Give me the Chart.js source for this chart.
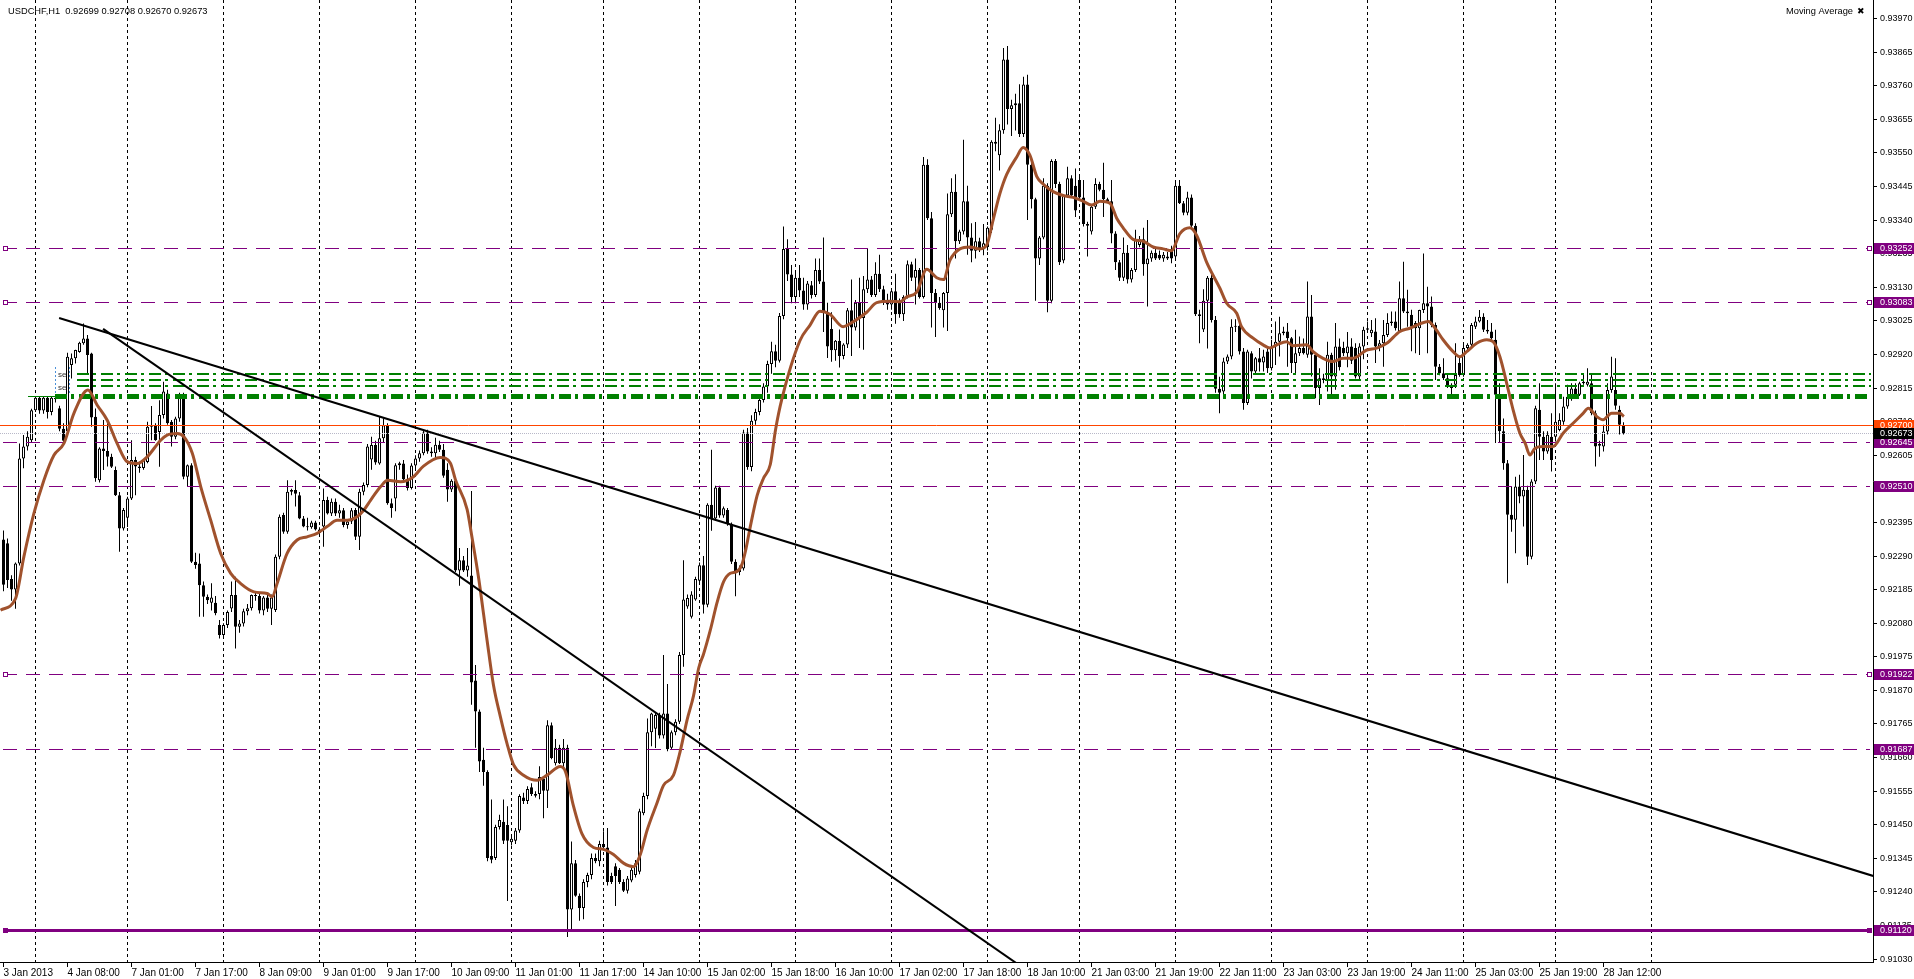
<!DOCTYPE html>
<html><head><meta charset="utf-8">
<script src="https://cdn.jsdelivr.net/npm/chart.js@4.4.0/dist/chart.umd.min.js"></script>
<style>html,body{margin:0;padding:0;background:#fff;overflow:hidden}canvas{display:block}</style>
</head><body>
<canvas id="c" width="1914" height="979"></canvas>
<script>
const chartTitle = 'USDCHF,H1  0.92699 0.92708 0.92670 0.92673';
const indicatorName = 'Moving Average';

const opens = [
0.92342,0.92330,0.92218,0.92185,0.92267,0.92595,0.92632,0.92652,0.92746,0.92785,
0.92745,0.92785,0.92740,0.92785,0.92752,0.92688,0.92680,0.92887,0.92908,0.92928,
0.92955,0.92970,0.92923,0.92725,0.92527,0.92626,0.92618,0.92600,0.92559,0.92480,
0.92376,0.92410,0.92470,0.92590,0.92570,0.92565,0.92584,0.92694,0.92699,0.92678,
0.92731,0.92798,0.92710,0.92663,0.92720,0.92793,0.92538,0.92574,0.92272,0.92267,
0.92199,0.92163,0.92144,0.92144,0.92074,0.92043,0.92074,0.92126,0.92168,0.92069,
0.92079,0.92117,0.92127,0.92168,0.92165,0.92120,0.92160,0.92125,0.92121,0.92288,
0.92418,0.92366,0.92491,0.92496,0.92480,0.92407,0.92382,0.92380,0.92395,0.92373,
0.92382,0.92465,0.92423,0.92460,0.92423,0.92433,0.92387,0.92398,0.92434,0.92350,
0.92491,0.92512,0.92592,0.92637,0.92579,0.92658,0.92699,0.92455,0.92470,0.92574,
0.92579,0.92530,0.92503,0.92573,0.92595,0.92611,0.92676,0.92617,0.92611,0.92638,
0.92622,0.92560,0.92498,0.92525,0.92245,0.92277,0.92245,0.92229,0.91901,0.91804,
0.91653,0.91615,0.91352,0.91346,0.91443,0.91459,0.91449,0.91395,0.91400,0.91432,
0.91535,0.91524,0.91567,0.91546,0.91546,0.91594,0.91556,0.91761,0.91642,0.91691,
0.91642,0.91691,0.91185,0.91330,0.91228,0.91190,0.91271,0.91293,0.91346,0.91336,
0.91390,0.91379,0.91290,0.91320,0.91309,0.91271,0.91244,0.91276,0.91293,0.91303,
0.91486,0.91540,0.91739,0.91750,0.91793,0.91729,0.91798,0.91691,0.91739,0.91772,
0.91981,0.92132,0.92100,0.92154,0.92213,0.92261,0.92138,0.92450,0.92407,0.92504,
0.92417,0.92434,0.92391,0.92272,0.92240,0.92251,0.92676,0.92568,0.92713,0.92740,
0.92778,0.92820,0.92890,0.92930,0.92900,0.93040,0.93250,0.93170,0.93100,0.93160,
0.93120,0.93076,0.93136,0.93106,0.93184,0.93148,0.93052,0.93000,0.92933,0.92963,
0.92915,0.92951,0.93058,0.93004,0.93082,0.93034,0.93124,0.93154,0.93106,0.93172,
0.93124,0.93082,0.93076,0.93118,0.93082,0.93046,0.93100,0.93202,0.93160,0.93184,
0.93100,0.93513,0.93346,0.93112,0.93082,0.93058,0.93112,0.93358,0.93429,0.93274,
0.93304,0.93399,0.93286,0.93244,0.93274,0.93250,0.93256,0.93310,0.93585,0.93543,
0.93621,0.93842,0.93687,0.93705,0.93705,0.93609,0.93764,0.93513,0.93405,0.93220,
0.93286,0.93447,0.93088,0.93525,0.93453,0.93214,0.93417,0.93471,0.93447,0.93465,
0.93411,0.93328,0.93304,0.93382,0.93453,0.93435,0.93405,0.93399,0.93298,0.93208,
0.93160,0.93238,0.93154,0.93184,0.93262,0.93280,0.93202,0.93220,0.93238,0.93232,
0.93220,0.93226,0.93250,0.93226,0.93447,0.93393,0.93363,0.93411,0.93322,0.93046,
0.92998,0.93088,0.93160,0.93028,0.92813,0.92804,0.92898,0.92914,0.93007,0.93010,
0.92929,0.92768,0.92924,0.92867,0.92908,0.92895,0.92929,0.92877,0.92945,0.92960,
0.92986,0.92992,0.92971,0.92893,0.92924,0.92940,0.92919,0.93039,0.92919,0.92815,
0.92846,0.92840,0.92919,0.92851,0.92945,0.92940,0.92924,0.92945,0.92940,0.92851,
0.92945,0.92997,0.92986,0.92992,0.92945,0.92955,0.92981,0.93018,0.93023,0.92992,
0.93096,0.93054,0.93044,0.93018,0.93002,0.93059,0.93080,0.93070,0.93012,0.92882,
0.92861,0.92846,0.92825,0.92825,0.92893,0.92856,0.92940,0.92950,0.93007,0.93023,
0.93038,0.92997,0.92992,0.92966,0.92794,0.92680,0.92580,0.92419,0.92403,0.92507,
0.92476,0.92497,0.92288,0.92523,0.92747,0.92663,0.92617,0.92663,0.92663,0.92684,
0.92710,0.92757,0.92783,0.92814,0.92794,0.92830,0.92825,0.92830,0.92736,0.92640,
0.92632,0.92679,0.92809,0.92809,0.92747,0.92699];

const highs = [
0.92370,0.92345,0.92230,0.92270,0.92642,0.92668,0.92680,0.92750,0.92790,0.92790,
0.92790,0.92790,0.92790,0.92792,0.92760,0.92705,0.92925,0.92923,0.92935,0.92960,
0.93017,0.92981,0.92925,0.92751,0.92630,0.92715,0.92715,0.92610,0.92570,0.92490,
0.92440,0.92475,0.92652,0.92600,0.92585,0.92590,0.92710,0.92759,0.92705,0.92777,
0.92835,0.92810,0.92715,0.92725,0.92800,0.92800,0.92576,0.92580,0.92300,0.92298,
0.92210,0.92170,0.92205,0.92165,0.92090,0.92080,0.92120,0.92210,0.92225,0.92090,
0.92125,0.92140,0.92170,0.92180,0.92175,0.92165,0.92175,0.92170,0.92295,0.92420,
0.92425,0.92527,0.92500,0.92527,0.92490,0.92415,0.92410,0.92400,0.92400,0.92380,
0.92501,0.92475,0.92470,0.92470,0.92450,0.92440,0.92405,0.92440,0.92440,0.92500,
0.92520,0.92640,0.92663,0.92650,0.92725,0.92720,0.92705,0.92470,0.92580,0.92585,
0.92590,0.92545,0.92580,0.92605,0.92620,0.92683,0.92685,0.92630,0.92660,0.92650,
0.92640,0.92580,0.92530,0.92530,0.92315,0.92290,0.92315,0.92493,0.91949,0.91810,
0.91691,0.91620,0.91529,0.91450,0.91481,0.91529,0.91508,0.91415,0.91440,0.91545,
0.91550,0.91570,0.91580,0.91555,0.91633,0.91600,0.91777,0.91770,0.91718,0.91700,
0.91718,0.91700,0.91398,0.91340,0.91235,0.91280,0.91300,0.91360,0.91360,0.91400,
0.91430,0.91440,0.91300,0.91330,0.91315,0.91280,0.91290,0.91315,0.91340,0.91500,
0.91550,0.91782,0.91800,0.91800,0.91800,0.91981,0.91890,0.91745,0.91780,0.91990,
0.92277,0.92170,0.92180,0.92225,0.92270,0.92290,0.92455,0.92622,0.92510,0.92510,
0.92445,0.92440,0.92395,0.92280,0.92260,0.92685,0.92690,0.92730,0.92750,0.92790,
0.92830,0.92900,0.92960,0.92950,0.93050,0.93320,0.93280,0.93200,0.93180,0.93200,
0.93160,0.93150,0.93150,0.93220,0.93220,0.93286,0.93082,0.93052,0.92965,0.92998,
0.92955,0.93065,0.93154,0.93090,0.93160,0.93165,0.93250,0.93165,0.93208,0.93232,
0.93135,0.93110,0.93125,0.93172,0.93095,0.93105,0.93214,0.93210,0.93220,0.93190,
0.93537,0.93530,0.93365,0.93125,0.93100,0.93115,0.93423,0.93471,0.93483,0.93310,
0.93591,0.93447,0.93330,0.93334,0.93285,0.93328,0.93320,0.93590,0.93660,0.93640,
0.93878,0.93884,0.93716,0.93735,0.93765,0.93788,0.93794,0.93520,0.93410,0.93290,
0.93471,0.93455,0.93530,0.93531,0.93460,0.93420,0.93507,0.93480,0.93501,0.93483,
0.93465,0.93335,0.93390,0.93471,0.93460,0.93519,0.93410,0.93465,0.93305,0.93215,
0.93286,0.93262,0.93190,0.93310,0.93290,0.93316,0.93340,0.93245,0.93250,0.93245,
0.93240,0.93240,0.93260,0.93460,0.93465,0.93400,0.93429,0.93420,0.93330,0.93060,
0.93124,0.93165,0.93170,0.93040,0.92850,0.92910,0.92920,0.93030,0.93030,0.93020,
0.92940,0.92935,0.92930,0.92912,0.92940,0.92935,0.92945,0.92966,0.93023,0.93038,
0.93007,0.93018,0.92975,0.92997,0.92976,0.92970,0.93148,0.93106,0.92925,0.92877,
0.92860,0.92960,0.92925,0.93018,0.92970,0.92960,0.92990,0.92971,0.92955,0.92955,
0.93007,0.93023,0.93028,0.93033,0.92965,0.93028,0.93049,0.93054,0.93054,0.93148,
0.93210,0.93122,0.93060,0.93025,0.93060,0.93236,0.93132,0.93101,0.93020,0.92890,
0.92908,0.92856,0.92830,0.92955,0.92913,0.92955,0.92955,0.93018,0.93038,0.93059,
0.93049,0.93028,0.93018,0.92997,0.92830,0.92720,0.92590,0.92507,0.92538,0.92544,
0.92606,0.92510,0.92530,0.92760,0.92830,0.92680,0.92680,0.92736,0.92830,0.92736,
0.92788,0.92825,0.92830,0.92830,0.92835,0.92862,0.92877,0.92862,0.92745,0.92650,
0.92700,0.92830,0.92913,0.92908,0.92760,0.92708];

const lows = [
0.92180,0.92190,0.92150,0.92125,0.92260,0.92564,0.92620,0.92645,0.92740,0.92735,
0.92735,0.92720,0.92730,0.92770,0.92680,0.92640,0.92670,0.92845,0.92892,0.92925,
0.92950,0.92861,0.92694,0.92522,0.92520,0.92559,0.92570,0.92565,0.92478,0.92303,
0.92370,0.92381,0.92465,0.92480,0.92550,0.92560,0.92580,0.92652,0.92650,0.92569,
0.92720,0.92700,0.92632,0.92655,0.92710,0.92530,0.92506,0.92268,0.92250,0.92100,
0.92100,0.92140,0.92120,0.92105,0.92032,0.92035,0.92065,0.92115,0.92001,0.92050,
0.92070,0.92105,0.92120,0.92150,0.92110,0.92105,0.92115,0.92074,0.92115,0.92280,
0.92360,0.92360,0.92480,0.92445,0.92405,0.92380,0.92370,0.92375,0.92370,0.92355,
0.92319,0.92420,0.92415,0.92415,0.92410,0.92380,0.92375,0.92390,0.92340,0.92309,
0.92480,0.92505,0.92560,0.92575,0.92575,0.92645,0.92450,0.92410,0.92430,0.92560,
0.92520,0.92495,0.92498,0.92565,0.92585,0.92605,0.92610,0.92600,0.92590,0.92615,
0.92535,0.92460,0.92490,0.92240,0.92197,0.92240,0.92225,0.91825,0.91691,0.91615,
0.91572,0.91336,0.91330,0.91340,0.91435,0.91390,0.91212,0.91385,0.91390,0.91425,
0.91515,0.91515,0.91540,0.91535,0.91530,0.91470,0.91502,0.91655,0.91635,0.91640,
0.91630,0.91099,0.91120,0.91225,0.91150,0.91155,0.91255,0.91280,0.91330,0.91320,
0.91370,0.91260,0.91265,0.91196,0.91265,0.91240,0.91235,0.91270,0.91285,0.91295,
0.91480,0.91530,0.91695,0.91690,0.91720,0.91720,0.91680,0.91685,0.91730,0.91765,
0.91944,0.92125,0.92095,0.92150,0.92205,0.92110,0.92130,0.92369,0.92400,0.92410,
0.92410,0.92385,0.92265,0.92164,0.92230,0.92245,0.92560,0.92555,0.92700,0.92730,
0.92770,0.92800,0.92860,0.92880,0.92895,0.93030,0.93150,0.93080,0.93080,0.93100,
0.93060,0.93060,0.93095,0.93100,0.93140,0.92990,0.92909,0.92897,0.92900,0.92879,
0.92905,0.92940,0.92915,0.92995,0.92940,0.92935,0.93112,0.93100,0.93100,0.93115,
0.93075,0.93060,0.93060,0.93016,0.93035,0.93025,0.93095,0.93150,0.93076,0.93095,
0.93095,0.93340,0.93004,0.92975,0.93060,0.93004,0.92993,0.93350,0.93220,0.93265,
0.93295,0.93232,0.93208,0.93220,0.93240,0.93230,0.93245,0.93300,0.93555,0.93495,
0.93610,0.93639,0.93603,0.93620,0.93600,0.93600,0.93340,0.93376,0.93088,0.93200,
0.93280,0.93052,0.93080,0.93440,0.93200,0.93205,0.93410,0.93410,0.93350,0.93405,
0.93320,0.93226,0.93295,0.93375,0.93430,0.93350,0.93395,0.93268,0.93184,0.93150,
0.93150,0.93142,0.93145,0.93178,0.93255,0.93166,0.93070,0.93210,0.93215,0.93215,
0.93210,0.93215,0.93205,0.93220,0.93390,0.93355,0.93355,0.93315,0.93040,0.92955,
0.92990,0.92939,0.93020,0.92800,0.92736,0.92790,0.92890,0.92905,0.92990,0.92920,
0.92747,0.92762,0.92845,0.92860,0.92867,0.92867,0.92862,0.92870,0.92887,0.92914,
0.92980,0.92882,0.92862,0.92862,0.92915,0.92920,0.92910,0.92851,0.92783,0.92762,
0.92830,0.92804,0.92783,0.92810,0.92870,0.92915,0.92880,0.92890,0.92845,0.92840,
0.92905,0.92990,0.92975,0.92893,0.92930,0.92882,0.92975,0.93010,0.92995,0.92990,
0.93050,0.93007,0.92930,0.92924,0.92918,0.93050,0.92924,0.93005,0.92840,0.92855,
0.92840,0.92815,0.92783,0.92815,0.92850,0.92850,0.92930,0.92945,0.93000,0.93020,
0.92990,0.92985,0.92960,0.92643,0.92643,0.92560,0.92205,0.92366,0.92299,0.92455,
0.92382,0.92262,0.92280,0.92515,0.92590,0.92590,0.92610,0.92554,0.92648,0.92680,
0.92700,0.92750,0.92775,0.92790,0.92790,0.92825,0.92820,0.92730,0.92570,0.92600,
0.92617,0.92670,0.92800,0.92747,0.92670,0.92670];

const closes = [
0.92200,0.92215,0.92185,0.92267,0.92595,0.92632,0.92663,0.92746,0.92785,0.92745,
0.92785,0.92740,0.92785,0.92780,0.92688,0.92650,0.92913,0.92908,0.92934,0.92957,
0.92970,0.92918,0.92723,0.92533,0.92626,0.92618,0.92600,0.92569,0.92480,0.92376,
0.92434,0.92470,0.92590,0.92570,0.92565,0.92588,0.92694,0.92699,0.92652,0.92731,
0.92804,0.92705,0.92663,0.92720,0.92788,0.92538,0.92574,0.92272,0.92262,0.92199,
0.92163,0.92152,0.92160,0.92111,0.92043,0.92074,0.92115,0.92168,0.92069,0.92079,
0.92117,0.92127,0.92168,0.92165,0.92120,0.92160,0.92125,0.92160,0.92288,0.92413,
0.92366,0.92491,0.92496,0.92485,0.92407,0.92382,0.92380,0.92395,0.92373,0.92362,
0.92465,0.92423,0.92460,0.92423,0.92433,0.92387,0.92398,0.92433,0.92350,0.92491,
0.92512,0.92632,0.92637,0.92582,0.92658,0.92699,0.92455,0.92440,0.92574,0.92580,
0.92530,0.92503,0.92573,0.92595,0.92611,0.92676,0.92617,0.92611,0.92638,0.92622,
0.92541,0.92498,0.92525,0.92245,0.92277,0.92245,0.92260,0.91895,0.91804,0.91648,
0.91615,0.91346,0.91341,0.91443,0.91465,0.91400,0.91400,0.91406,0.91432,0.91540,
0.91524,0.91562,0.91546,0.91541,0.91599,0.91556,0.91761,0.91659,0.91691,0.91642,
0.91691,0.91185,0.91330,0.91228,0.91190,0.91271,0.91293,0.91346,0.91336,0.91390,
0.91380,0.91271,0.91271,0.91290,0.91271,0.91244,0.91282,0.91309,0.91330,0.91492,
0.91540,0.91739,0.91798,0.91793,0.91729,0.91798,0.91686,0.91739,0.91772,0.91981,
0.92154,0.92159,0.92170,0.92218,0.92261,0.92138,0.92450,0.92407,0.92504,0.92417,
0.92439,0.92391,0.92272,0.92240,0.92251,0.92676,0.92568,0.92713,0.92740,0.92778,
0.92820,0.92890,0.92930,0.92900,0.93040,0.93250,0.93170,0.93100,0.93160,0.93120,
0.93076,0.93142,0.93106,0.93184,0.93148,0.93052,0.92945,0.92933,0.92963,0.92915,
0.92951,0.93058,0.93004,0.93082,0.93034,0.93124,0.93154,0.93106,0.93172,0.93124,
0.93082,0.93076,0.93118,0.93046,0.93046,0.93100,0.93202,0.93160,0.93184,0.93100,
0.93513,0.93346,0.93112,0.93082,0.93065,0.93112,0.93358,0.93429,0.93274,0.93304,
0.93399,0.93286,0.93244,0.93274,0.93250,0.93268,0.93316,0.93585,0.93579,0.93621,
0.93842,0.93687,0.93699,0.93699,0.93609,0.93764,0.93513,0.93405,0.93220,0.93286,
0.93447,0.93088,0.93525,0.93453,0.93208,0.93417,0.93471,0.93417,0.93370,0.93411,
0.93328,0.93322,0.93382,0.93453,0.93435,0.93405,0.93399,0.93298,0.93208,0.93160,
0.93238,0.93154,0.93184,0.93280,0.93280,0.93202,0.93220,0.93238,0.93220,0.93220,
0.93232,0.93220,0.93220,0.93447,0.93393,0.93363,0.93411,0.93322,0.93046,0.93040,
0.93088,0.93160,0.93028,0.92813,0.92800,0.92898,0.92914,0.93007,0.93010,0.92929,
0.92768,0.92929,0.92867,0.92908,0.92895,0.92914,0.92877,0.92945,0.92960,0.92986,
0.92992,0.92971,0.92893,0.92924,0.92940,0.92924,0.93039,0.92919,0.92815,0.92846,
0.92840,0.92919,0.92851,0.92945,0.92880,0.92924,0.92945,0.92900,0.92851,0.92945,
0.92997,0.93002,0.92997,0.92945,0.92955,0.92981,0.93018,0.93023,0.93002,0.93096,
0.93054,0.93049,0.93007,0.93002,0.93059,0.93080,0.93070,0.93012,0.92882,0.92861,
0.92846,0.92820,0.92815,0.92856,0.92856,0.92940,0.92950,0.93012,0.93023,0.93038,
0.92997,0.92992,0.92971,0.92794,0.92680,0.92580,0.92419,0.92403,0.92507,0.92476,
0.92497,0.92288,0.92523,0.92752,0.92663,0.92617,0.92669,0.92590,0.92710,0.92715,
0.92757,0.92788,0.92814,0.92794,0.92830,0.92835,0.92835,0.92736,0.92632,0.92635,
0.92679,0.92809,0.92851,0.92760,0.92700,0.92673];

const maBars = [-0.75,3,5.1,7.6,10.1,12.6,15.1,17.6,21.1,23.4,
25.9,28.4,30.9,33.4,35.9,39.3,40.9,43.4,45.1,47.2,
49.3,51.8,54.3,56.8,59.3,62.6,65.9,67.2,68.4,70.9,
73.4,75.9,78.4,80.9,83.4,85.9,88.4,90.1,91.8,94.3,
96,99.3,102.5,105,109.2,111.7,113,115.9,117.1,118.8,
120.9,122.5,124.2,125.9,127.5,130,133.4,135.9,139.2,140.5,
142.5,144.6,147.5,150,152.5,155,157.5,159.2,160.9,163.4,
165,167.5,169.2,170.9,172.5,173.8,175,176.7,178.4,180,
181.7,183.4,184.6,185.5,186.7,188.4,190,191.7,193,194.6,
199.1,201.6,204.1,206.6,209.9,212.4,215.8,218.3,221.6,224.1,
225.8,228.3,230.8,233.3,235,236.6,239.1,241.6,244.1,245.8,
247.4,249.1,250.8,253.3,254.9,256.6,258.3,259.9,262.4,264.9,
267.4,269.9,272,274.1,276.6,278.3,279.9,282.4,284.9,287.4,
289.9,292,294.1,296.6,298.3,300.8,304.1,305.8,308.3,309.5,
312.4,314.9,316.6,318.3,320.8,322.4,325.8,327.4,329.9,332.4,
334.9,337.4,340.8,343.3,345.8,349.1,351.6,354.1,356.2,357.9,
359.9,362.4,364.1,365.8,368.3,370.8,372.4,374.1,375.8,377.4,
379.1,380.4,381.6,382.9,384.9,387.4,389.9,392.4,394.9,396.2,
398.3,399.9,402,404.1,405.1];

const maValues = [0.92121,0.92157,0.92288,0.92423,0.92527,0.92605,0.92642,0.92736,0.92809,0.92762,
0.92715,0.92642,0.92585,0.92579,0.92600,0.92652,0.92668,0.92673,0.92663,0.92611,
0.92507,0.92402,0.92298,0.92236,0.92204,0.92178,0.92173,0.92163,0.92204,0.92298,
0.92340,0.92350,0.92361,0.92382,0.92402,0.92402,0.92413,0.92434,0.92465,0.92507,
0.92527,0.92522,0.92538,0.92571,0.92598,0.92581,0.92528,0.92436,0.92350,0.92220,
0.92026,0.91886,0.91789,0.91703,0.91638,0.91605,0.91589,0.91605,0.91632,0.91616,
0.91508,0.91422,0.91379,0.91373,0.91357,0.91330,0.91319,0.91357,0.91433,0.91519,
0.91573,0.91605,0.91681,0.91778,0.91853,0.91940,0.91983,0.92058,0.92145,0.92209,
0.92236,0.92242,0.92263,0.92306,0.92382,0.92479,0.92533,0.92576,0.92684,0.92781,
0.92963,0.93011,0.93055,0.93046,0.93007,0.93022,0.93052,0.93082,0.93086,0.93085,
0.93100,0.93115,0.93186,0.93160,0.93154,0.93214,0.93250,0.93256,0.93250,0.93262,
0.93340,0.93423,0.93483,0.93537,0.93567,0.93543,0.93477,0.93453,0.93429,0.93417,
0.93411,0.93399,0.93387,0.93399,0.93393,0.93346,0.93316,0.93280,0.93274,0.93256,
0.93250,0.93244,0.93298,0.93316,0.93292,0.93208,0.93127,0.93080,0.93049,0.93007,
0.92971,0.92950,0.92940,0.92950,0.92960,0.92947,0.92950,0.92929,0.92908,0.92898,
0.92908,0.92908,0.92934,0.92940,0.92955,0.92992,0.93002,0.93016,0.93023,0.93002,
0.92966,0.92929,0.92913,0.92929,0.92955,0.92966,0.92960,0.92913,0.92830,0.92747,
0.92674,0.92643,0.92606,0.92627,0.92632,0.92632,0.92674,0.92705,0.92736,0.92752,
0.92726,0.92716,0.92736,0.92736,0.92726];

const timeLabelBars = [0,16,32,48,64,80,96,112,128,144,160,176,192,208,224,240,256,272,288,304,320,336,352,368,384,400];
const timeLabels = ['3 Jan 2013','4 Jan 08:00','7 Jan 01:00','7 Jan 17:00','8 Jan 09:00','9 Jan 01:00','9 Jan 17:00','10 Jan 09:00','11 Jan 01:00','11 Jan 17:00','14 Jan 10:00','15 Jan 02:00','15 Jan 18:00','16 Jan 10:00','17 Jan 02:00','17 Jan 18:00','18 Jan 10:00','21 Jan 03:00','21 Jan 19:00','22 Jan 11:00','23 Jan 03:00','23 Jan 19:00','24 Jan 11:00','25 Jan 03:00','25 Jan 19:00','28 Jan 12:00'];
const dayGridBars = [8,31,55,79,103,127,150,174,198,222,246,269,293,317,341,365,388,412];
const priceTicks = [0.93970,0.93865,0.93760,0.93655,0.93550,0.93445,0.93340,0.93235,0.93130,0.93025,0.92920,0.92815,0.92710,0.92605,0.92500,0.92395,0.92290,0.92185,0.92080,0.91975,0.91870,0.91765,0.91660,0.91555,0.91450,0.91345,0.91240,0.91135,0.91030];

const dashedLevels = [0.93252,0.93083,0.92645,0.92510,0.91922,0.91687];
const squaredLevels = [0.93252,0.93083,0.91922];
const supportLevel = 0.91120;
const redLevel = 0.92700;
const bidLevel = 0.92673;
const greenThinLevels = [0.92858,0.92840,0.92822];
const greenThickLevel = 0.92791;
const objectLabels = ['se', 'se'];
const objectLabelPrices = [0.92856, 0.92815];

const trendA_bars = [13.9, 467.4];
const trendA_prices = [0.93034, 0.91290];
const trendB_bars = [24.9, 274.1];
const trendB_prices = [0.93000, 0.90836];

const FONT = 'Liberation Sans';
const PURPLE = '#800080';

const wickData = [], bodyData = [], bodyColors = [];
for (let i = 0; i < closes.length; i++) {
  wickData.push({x: i, y: [lows[i], highs[i]]});
  bodyData.push({x: i, y: [opens[i], closes[i]]});
  bodyColors.push(closes[i] >= opens[i] ? '#ffffff' : '#000000');
}
const maData = maBars.map((b, i) => ({x: b, y: maValues[i]}));

const overlay = {
  id: 'overlay',
  beforeDatasetsDraw(chart) {
    const {ctx, chartArea: a, scales: {x}} = chart;
    ctx.save();
    ctx.strokeStyle = '#000';
    ctx.lineWidth = 1;
    ctx.setLineDash([3, 3]);
    for (const b of dayGridBars) {
      const px = x.getPixelForValue(b);
      ctx.beginPath(); ctx.moveTo(px, a.top); ctx.lineTo(px, a.bottom); ctx.stroke();
    }
    ctx.restore();
  },
  beforeDatasetDraw(chart, args) {
    if (args.index !== 2) return;
    const {ctx, chartArea: a, scales: {y}} = chart;
    const py = v => Math.round(y.getPixelForValue(v));
    ctx.save();
    ctx.beginPath(); ctx.rect(a.left, a.top, a.right - a.left, a.bottom - a.top); ctx.clip();
    ctx.strokeStyle = PURPLE; ctx.lineWidth = 1; ctx.setLineDash([14, 9]);
    for (const v of dashedLevels) {
      const p = py(v) + 0.5;
      ctx.beginPath(); ctx.moveTo(a.left + 3, p); ctx.lineTo(a.right - 3, p); ctx.stroke();
    }
    ctx.setLineDash([]);
    ctx.lineWidth = 3;
    ctx.beginPath(); ctx.moveTo(a.left + 3, py(supportLevel) + 0.5); ctx.lineTo(a.right - 3, py(supportLevel) + 0.5); ctx.stroke();
    ctx.strokeStyle = '#FF4500'; ctx.lineWidth = 1;
    ctx.beginPath(); ctx.moveTo(a.left, py(redLevel) + 0.5); ctx.lineTo(a.right, py(redLevel) + 0.5); ctx.stroke();
    ctx.strokeStyle = '#B8B8C8'; ctx.setLineDash([1, 1]);
    ctx.beginPath(); ctx.moveTo(a.left, py(bidLevel) + 0.5); ctx.lineTo(a.right, py(bidLevel) + 0.5); ctx.stroke();
    ctx.strokeStyle = '#008000';
    ctx.lineWidth = 2; ctx.setLineDash([12, 4, 3, 5]);
    for (const v of greenThinLevels) {
      const p = py(v);
      ctx.beginPath(); ctx.moveTo(77, p); ctx.lineTo(a.right - 2, p); ctx.stroke();
    }
    ctx.lineWidth = 5;
    const pt = py(greenThickLevel) + 0.5;
    ctx.beginPath(); ctx.moveTo(55, pt); ctx.lineTo(a.right - 2, pt); ctx.stroke();
    ctx.lineWidth = 1; ctx.setLineDash([]);
    ctx.beginPath(); ctx.moveTo(28, pt); ctx.lineTo(55, pt); ctx.stroke();
    // small object labels
    ctx.font = '8px "' + FONT + '"';
    ctx.fillStyle = '#333'; ctx.textBaseline = 'middle'; ctx.textAlign = 'left';
    objectLabels.forEach((t, i) => ctx.fillText(t, 58, py(objectLabelPrices[i])));
    ctx.strokeStyle = '#4A90D9'; ctx.lineWidth = 1; ctx.setLineDash([2, 2]);
    ctx.beginPath(); ctx.moveTo(55.5, py(0.92880)); ctx.lineTo(55.5, py(0.92800)); ctx.stroke();
    ctx.beginPath(); ctx.moveTo(69.5, py(0.92880)); ctx.lineTo(69.5, py(0.92800)); ctx.stroke();
    ctx.restore();
  },
  afterDraw(chart) {
    const {ctx, chartArea: a, scales: {y}} = chart;
    const py = v => Math.round(y.getPixelForValue(v));
    ctx.save();
    ctx.strokeStyle = PURPLE; ctx.lineWidth = 1; ctx.fillStyle = '#fff';
    for (const v of squaredLevels) {
      const p = py(v);
      for (const sx of [3, a.right - 6]) {
        ctx.fillRect(sx, p - 2, 4, 4);
        ctx.strokeRect(sx + 0.5, p - 1.5, 4, 4);
      }
    }
    ctx.fillStyle = PURPLE;
    for (const sx of [3, a.right - 6]) ctx.fillRect(sx, py(supportLevel) - 2, 5, 5);
    ctx.font = '9px "' + FONT + '"';
    ctx.textBaseline = 'middle'; ctx.textAlign = 'left';
    const boxes = [];
    for (const v of dashedLevels) boxes.push([v, PURPLE]);
    boxes.push([supportLevel, PURPLE]);
    boxes.push([redLevel, '#FF4500']);
    boxes.push([bidLevel, '#000000']);
    for (const [v, col] of boxes) {
      const p = py(v);
      ctx.fillStyle = col;
      ctx.fillRect(a.right + 1, p - 5, chart.width - a.right - 1, 11);
      ctx.fillStyle = '#fff';
      ctx.fillText(v.toFixed(5), a.right + 7, p + 0.5);
    }
    ctx.font = '9.3px "' + FONT + '"';
    ctx.fillStyle = '#000'; ctx.textBaseline = 'alphabetic';
    ctx.fillText(chartTitle, 8, 14);
    ctx.textAlign = 'right';
    ctx.fillText(indicatorName, 1853, 14);
    ctx.font = 'bold 9px "DejaVu Sans"';
    ctx.textAlign = 'left';
    ctx.fillText('\u2716', 1857, 14);
    ctx.restore();
  }
};

new Chart(document.getElementById('c'), {
  type: 'bar',
  data: {
    datasets: [
      {type: 'line', data: trendA_bars.map((b, i) => ({x: b, y: trendA_prices[i]})), borderColor: '#000', borderWidth: 2, pointRadius: 0, order: 0, clip: 0},
      {type: 'line', data: trendB_bars.map((b, i) => ({x: b, y: trendB_prices[i]})), borderColor: '#000', borderWidth: 2, pointRadius: 0, order: 0, clip: 0},
      {type: 'line', data: maData, borderColor: '#A0522D', borderWidth: 3, pointRadius: 0, cubicInterpolationMode: 'monotone', order: 1, clip: 0},
      {type: 'bar', data: bodyData, backgroundColor: bodyColors, borderColor: '#000', borderWidth: 1, borderSkipped: false, barThickness: 3, grouped: false, inflateAmount: 0, minBarLength: 1, order: 4},
      {type: 'bar', data: wickData, backgroundColor: '#000', borderWidth: 0, barThickness: 1, grouped: false, inflateAmount: 0, order: 5}
    ]
  },
  options: {
    responsive: false, animation: false, devicePixelRatio: 1,
    layout: {padding: 0, autoPadding: false},
    plugins: {legend: {display: false}, tooltip: {enabled: false}},
    scales: {
      x: {
        type: 'linear', position: 'bottom', min: -0.875, max: 467.375, offset: false,
        afterBuildTicks: s => { s.ticks = timeLabelBars.map(v => ({value: v})); },
        afterFit: s => { s.height = 17; s.paddingLeft = 0; s.paddingRight = 0; },
        grid: {display: true, offset: false, drawOnChartArea: false, drawTicks: true, tickLength: 5, color: '#000', lineWidth: 1},
        border: {display: true, color: '#000', width: 1},
        ticks: {autoSkip: false, maxRotation: 0, minRotation: 0, align: 'start', padding: 0, color: '#000',
          font: {family: FONT, size: 10},
          callback: v => { const k = timeLabelBars.indexOf(v); return k >= 0 ? timeLabels[k] : ''; }}
      },
      y: {
        type: 'linear', position: 'right', min: 0.91021, max: 0.94028,
        afterBuildTicks: s => { s.ticks = priceTicks.map(v => ({value: v})); },
        afterFit: s => { s.width = 41; s.paddingTop = 0; s.paddingBottom = 0; },
        grid: {display: true, drawOnChartArea: false, drawTicks: true, tickLength: 4, color: '#000'},
        border: {display: true, color: '#000', width: 1},
        ticks: {padding: 3, color: '#000', font: {family: FONT, size: 9}, callback: v => Number(v).toFixed(5)}
      }
    }
  },
  plugins: [overlay]
});
</script>
</body></html>
